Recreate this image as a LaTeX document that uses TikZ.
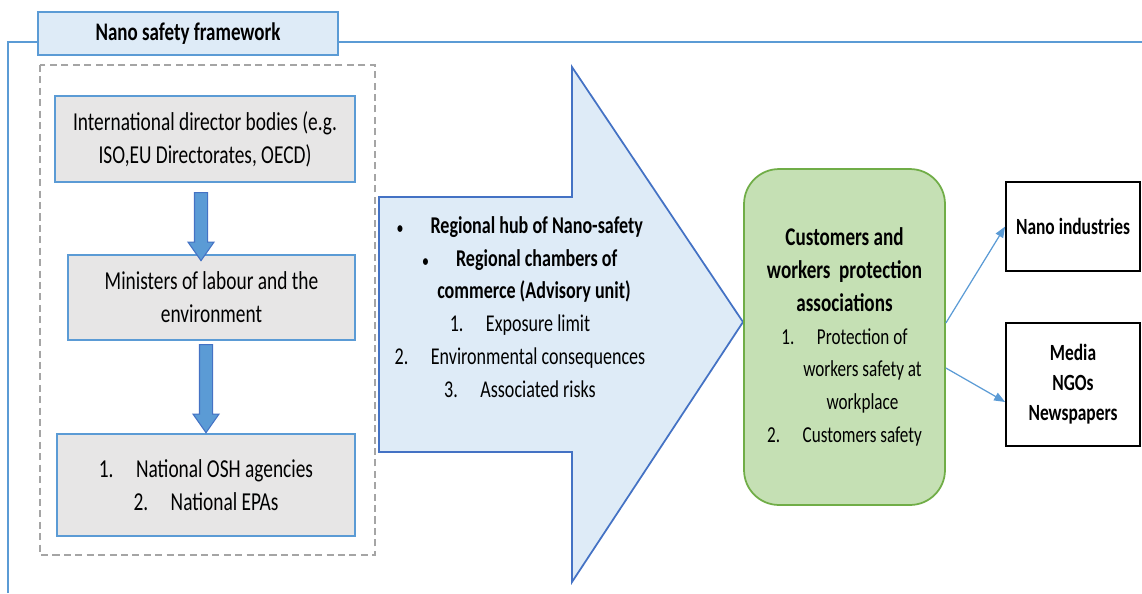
\documentclass[tikz,border=0pt]{standalone}
\usepackage{fontspec}
\setmainfont{Carlito}[FakeStretch=0.75]
\usetikzlibrary{shapes.arrows,arrows.meta}

\definecolor{frameblue}{RGB}{91,155,213}
\definecolor{darkblue}{RGB}{68,114,196}
\definecolor{paleblue}{RGB}{222,235,247}
\definecolor{boxgrey}{RGB}{231,230,230}
\definecolor{dashgrey}{RGB}{165,165,165}
\definecolor{palegreen}{RGB}{197,224,180}
\definecolor{darkgreen}{RGB}{112,173,71}

\newcommand{\headline}[1]{{\bfseries\fontsize{14.5}{19.5}\selectfont #1}}
\newcommand{\dotmark}{{\fontsize{9}{9}\selectfont\textbullet}}

\tikzset{
    bodyfont/.style={font=\fontsize{13}{18.7}\selectfont},
    greybox/.style={shape=rectangle, draw=frameblue, fill=boxgrey, line width=1pt, align=center,
        font=\fontsize{14.7}{18.9}\selectfont},
    downarrow/.style={single arrow, draw=darkblue, fill=frameblue, line width=0.6pt, shape border rotate=270,
        inner sep=0.12cm, single arrow head extend=0.13cm, single arrow tip angle=70},
    sidebox/.style={shape=rectangle, draw=black, fill=white, line width=1pt, align=center,
        minimum width=2.68cm, font=\bfseries\fontsize{13.2}{17}\selectfont},
    linkarrow/.style={draw=frameblue, line width=0.7pt, -{Triangle[length=0.22cm, width=0.17cm]}}
}

\begin{document}
\begin{tikzpicture}[x=0.02cm, y=-0.02cm]
    \useasboundingbox (0,0) rectangle (1142,593);

    % framework outline
    \draw[frameblue, line width=1.2pt] (8,593) -- (8,42) -- (1142,42);
    \node[shape=rectangle, draw=frameblue, fill=paleblue, line width=1pt, minimum width=6cm, minimum height=0.86cm,
        font=\bfseries\fontsize{14.4}{17}\selectfont] (title) at (188,33.5) {Nano safety framework};
    \draw[dashgrey, line width=0.8pt, dash pattern=on 4pt off 2.5pt] (40,65) rectangle (375,555);

    % national chain
    \node[greybox, minimum width=6cm, minimum height=1.72cm] (intl) at (205,139)
        {International director bodies (e.g.\\ISO,EU Directorates, OECD)};
    \node[greybox, minimum width=5.74cm, minimum height=1.7cm] (ministers) at (211.5,297.5)
        {Ministers of labour and the\\environment};
    \node[greybox, minimum width=5.96cm, minimum height=2.04cm] (agencies) at (206,485)
        {1.\hspace{0.45cm}National OSH agencies\\2.\hspace{0.45cm}National EPAs};
    \node[downarrow, minimum height=1.36cm] (arrowone) at (201,222) {};
    \node[downarrow, minimum height=1.76cm] (arrowtwo) at (206,384) {};

    % regional hub
    \draw[darkblue, fill=paleblue, line width=1pt] (379,197) -- (572,197) -- (572,67) -- (743,322)
        -- (572,582) -- (572,452) -- (379,452) -- cycle;
    \node[align=center, font=\fontsize{13.7}{18.7}\selectfont] (hub) at (520,307)
        {\textbf{\dotmark\hspace{0.55cm}Regional hub of Nano-safety}\\
         \textbf{\dotmark\hspace{0.55cm}Regional chambers of}\\
         \hspace*{0.56cm}\textbf{commerce (Advisory unit)}\\
         1.\hspace{0.45cm}Exposure limit\\
         2.\hspace{0.45cm}Environmental consequences\\
         3.\hspace{0.45cm}Associated risks};

    % associations
    \node[shape=rectangle, rounded corners=0.7cm, draw=darkgreen, fill=palegreen, line width=1pt,
        minimum width=4.02cm, minimum height=6.72cm, align=center, bodyfont] (assoc) at (844.5,337)
        {\headline{Customers and}\\
         \headline{workers\ \ protection}\\
         \headline{associations}\\
         1.\hspace{0.45cm}Protection of\\
         \hspace*{0.72cm}workers safety at\\
         \hspace*{0.72cm}workplace\\
         2.\hspace{0.45cm}Customers safety};

    % audiences
    \node[sidebox, minimum height=1.78cm] (industry) at (1073,226.5) {Nano industries};
    \node[sidebox, minimum height=2.46cm] (media) at (1073,384.5) {Media\\NGOs\\Newspapers};

    \draw[linkarrow] ([yshift=0.28cm]assoc.east) -- (industry.west);
    \draw[linkarrow] ([yshift=-0.62cm]assoc.east) -- ([yshift=-0.35cm]media.west);
\end{tikzpicture}
\end{document}
